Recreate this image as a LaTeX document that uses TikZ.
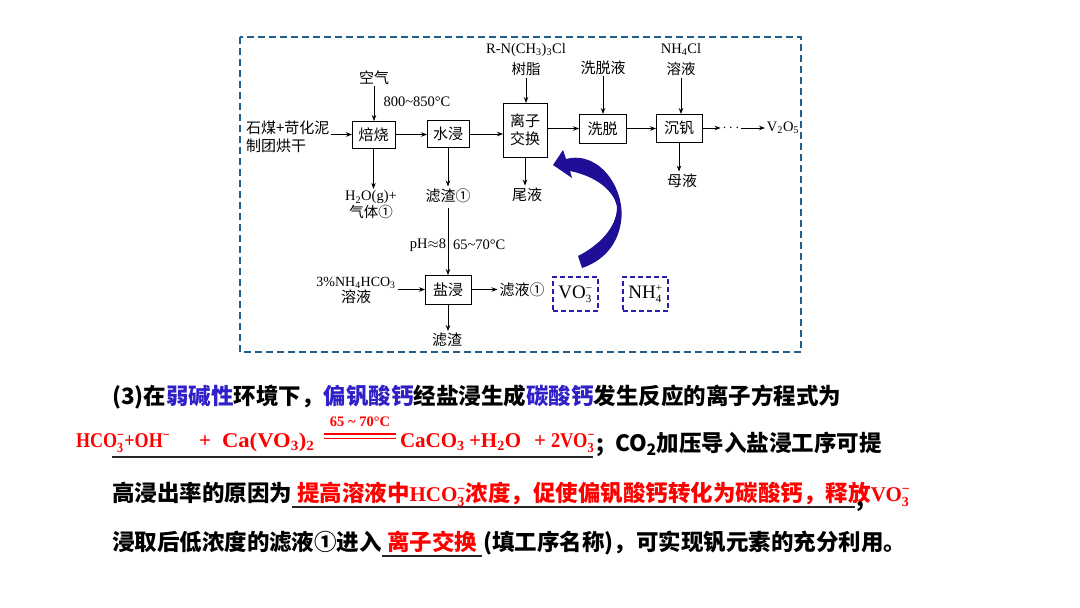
\documentclass[tikz,border=0pt]{standalone}
\usepackage{fontspec}
\usetikzlibrary{arrows.meta}
\setmainfont{Liberation Serif}
\newfontfamily\cjk{Noto Sans CJK SC}
\definecolor{frameblue}{RGB}{31,95,140}
\definecolor{boxviolet}{RGB}{40,30,180}
\definecolor{arrowblue}{RGB}{30,15,150}
\definecolor{txtblue}{RGB}{48,32,200}
\definecolor{txtred}{RGB}{255,0,0}
\newcommand\fc{\cjk\fontsize{15}{20}\selectfont}
\newcommand\fl{\rmfamily\fontsize{14.5}{20}\selectfont}
\newcommand\tb{\cjk\bfseries\fontsize{22.5}{27}\selectfont}
\newcommand\eqf{\rmfamily\bfseries\fontsize{21}{25}\selectfont}
\newcommand\ionn[3]{\ensuremath{_{\mbox{\fontsize{#3}{#3}\selectfont #1}}^{\mbox{\fontsize{#3}{#3}\selectfont #2}}}}
\newcommand\subn[2]{\ensuremath{_{\mbox{\fontsize{#2}{#2}\selectfont #1}}}}
\newcommand\supn[2]{\ensuremath{^{\mbox{\fontsize{#2}{#2}\selectfont #1}}}}
\newcommand\hsq[2]{\scalebox{#1}[1]{#2}}
\begin{document}
\begin{tikzpicture}[x=1pt,y=-1pt,
  every node/.style={inner sep=0pt,outer sep=0pt},
  proc/.style={draw,line width=0.9pt,font=\fc,align=center},
  lab/.style={font=\fc,align=center,inner sep=2pt},
  arr/.style={-{Stealth[length=6pt,width=4.5pt]},line width=0.8pt},
  ionbox/.style={draw=boxviolet,line width=1.8pt,dash pattern=on 5pt off 3pt,minimum width=45pt,minimum height=34pt,font=\rmfamily\fontsize{19}{20}\selectfont},
  tline/.style={anchor=base west,font=\tb},
  eqline/.style={anchor=base west,font=\eqf,text=txtred},
  uline/.style={line width=1.1pt,black!85}]
\fill[white] (0,0) rectangle (1080,608);
\useasboundingbox (0,0) rectangle (1080,608);
% frame
\draw[frameblue,line width=1.8pt,dash pattern=on 7pt off 4pt] (240,37) rectangle (801,352);
% process boxes
\node[proc,minimum width=43pt,minimum height=27pt] (b1) at (373.5,134.5) {焙烧};
\node[proc,minimum width=42pt,minimum height=27pt] (b2) at (448,134) {水浸};
\node[proc,minimum width=44pt,minimum height=54pt,font=\cjk\fontsize{15}{18}\selectfont] (b3) at (525,130) {离子\\交换};
\node[proc,minimum width=47pt,minimum height=29pt] (b4) at (602.5,128.5) {洗脱};
\node[proc,minimum width=46pt,minimum height=28pt] (b5) at (679,128) {沉钒};
\node[proc,minimum width=46pt,minimum height=29pt] (b6) at (448,289.5) {盐浸};
% labels
\node[lab,anchor=west,align=left,font=\cjk\fontsize{15}{18}\selectfont] (raw) at (244,137) {石煤+苛化泥\\制团烘干};
\node[lab] (air) at (374,77.5) {空气};
\node[lab,font=\fl] (t1) at (417,102) {800\textasciitilde850°C};
\node[lab,font=\rmfamily\fontsize{14.5}{17}\selectfont] (gas) at (371,205) {H\textsubscript{2}O(g)+\\{\cjk 气体①}};
\node[lab] (r1) at (448,195.5) {滤渣①};
\node[lab,font=\rmfamily\fontsize{14.5}{21}\selectfont] (rs) at (526,59.5) {R-N(CH\textsubscript{3})\textsubscript{3}Cl\\{\cjk 树脂}};
\node[lab] (tail) at (527,194.5) {尾液};
\node[lab] (el) at (603,67.5) {洗脱液};
\node[lab,font=\rmfamily\fontsize{14.5}{21}\selectfont] (nc) at (681,59.5) {NH\textsubscript{4}Cl\\{\cjk 溶液}};
\node[lab] (ml) at (682,180.5) {母液};
\node[lab,font=\fl] (dots) at (731,128) {$\cdots$};
\node[lab,font=\fl] (v) at (783,128) {V\textsubscript{2}O\textsubscript{5}};
\node[lab,font=\fl,anchor=east] (ph) at (448,245) {pH$\approx$8};
\node[lab,font=\fl,anchor=west] (t2) at (451,245) {65\textasciitilde70°C};
\node[lab,font=\rmfamily\fontsize{14}{16}\selectfont] (nhc) at (356,290) {3\%NH\textsubscript{4}HCO\textsubscript{3}\\{\cjk\fontsize{15}{16}\selectfont 溶液}};
\node[lab] (f1) at (522,290) {滤液①};
\node[lab] (r2) at (447,340) {滤渣};
\node[ionbox] (vo) at (575.5,294) {VO\ionn{3}{−}{11}};
\node[ionbox] (nh) at (645.5,294) {NH\ionn{4}{+}{11}};
% connectors
\draw[arr] (raw.east |- b1.west) -- (b1.west);
\draw[arr] (air.south) -- (air.south |- b1.north);
\draw[arr] (b1.east) -- (b1.east -| b2.west);
\draw[arr] (b2.east) -- (b2.east -| b3.west);
\draw[arr] (b3.east |- b4.west) -- (b4.west);
\draw[arr] (b4.east) -- (b4.east -| b5.west);
\draw[arr] (b5.east) -- (b5.east -| dots.west);
\draw[arr] (dots.east) -- (dots.east -| v.west);
\draw[arr] (rs.south) -- (rs.south |- b3.north);
\draw[arr] (b3.south) -- (b3.south |- tail.north);
\draw[arr] (el.south) -- (el.south |- b4.north);
\draw[arr] (nc.south) -- (nc.south |- b5.north);
\draw[arr] (b5.south) -- (b5.south |- ml.north);
\draw[arr] (b1.south) -- (b1.south |- gas.north);
\draw[arr] (b2.south) -- (b2.south |- r1.north);
\draw[arr,shorten <=4pt] (r1.south) -- (r1.south |- b6.north);
\draw[arr] (nhc.east |- b6.west) -- (b6.west);
\draw[arr] (b6.east) -- (b6.east -| f1.west);
\draw[arr] (b6.south) -- (b6.south |- r2.north);
% big curved arrow
\fill[arrowblue] (566,159) .. controls (600,150) and (626,190) .. (621,222)
  .. controls (617,248) and (600,262) .. (582,268) -- (578,256)
  .. controls (598,246) and (617,228) .. (617,207)
  .. controls (614,190) and (595,176) .. (570,171)
  -- (572,178) -- (553,165) -- (563,150) -- cycle;
% text lines
\node[tline] (l1) at (112,404) {(3)在\textcolor{txtblue}{弱碱性}环境下，\textcolor{txtblue}{偏钒酸钙}经盐浸生成\textcolor{txtblue}{碳酸钙}发生反应的离子方程式为};
% equation
\node[eqline] (e1) at (76,447) {\hsq{0.86}{HCO\ionn{3}{−}{14}+OH\supn{−}{14}}};
\node[eqline] (e3) at (199,447) {+};
\node[eqline] (e4) at (222,447) {\hsq{1.08}{Ca(VO\subn{3}{14})\subn{2}{14}}};
\node[font=\rmfamily\bfseries\fontsize{14.5}{14.5}\selectfont,text=txtred] (cond) at (360,422) {65 \textasciitilde{} 70°C};
\draw[txtred,line width=1.3pt] (324,434) -- (396,434);
\draw[txtred,line width=1.3pt] (324,438.5) -- (396,438.5);
\node[eqline] (e5) at (400,447) {CaCO\subn{3}{14}};
\node[eqline] (e6) at (469,447) {+H\subn{2}{14}O};
\node[eqline] (e7) at (534,447) {+};
\node[eqline] (e8) at (551,447) {\hsq{0.88}{2VO\ionn{3}{−}{14}}};
\node[tline] (semi) at (596,451) {;};
\node[tline] (l2) at (615,451) {CO\textsubscript{2}加压导入盐浸工序可提};
\draw[uline] (112,457) -- (593,457);
\node[tline] (l3) at (112,501) {高浸出率的原因为};
\node[tline,text=txtred] (a3) at (297,501) {提高溶液中{\eqf HCO\ionn{3}{−}{14}}浓度，促使偏钒酸钙转化为碳酸钙，释放{\eqf VO\ionn{3}{−}{14}}};
\draw[uline] (292,507) -- (855,507);
\node[tline] (c3) at (856,506) {,};
\node[tline] (l4) at (112,550) {浸取后低浓度的滤液①进入};
\node[tline,text=txtred] (a4) at (387,550) {离子交换};
\draw[uline] (382,556) -- (482,556);
\node[tline] (l4b) at (483,550) {(填工序名称)，可实现钒元素的充分利用。};
\end{tikzpicture}
\end{document}
